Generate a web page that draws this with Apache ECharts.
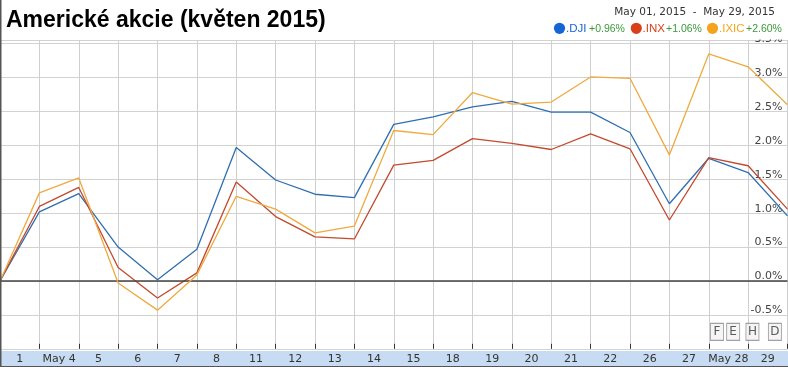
<!DOCTYPE html>
<html><head><meta charset="utf-8">
<script src="https://cdn.jsdelivr.net/npm/echarts/dist/echarts.min.js"></script>
<style>html,body{margin:0;padding:0;background:#fff}#c{width:788px;height:367px}</style>
</head><body><div id="c"></div>
<script>
const titleText = 'Americké akcie (květen 2015)';
const dateRange = 'May 01, 2015  -  May 29, 2015';
const dayLabels = ['1','May 4','5','6','7','8','11','12','13','14','15','18','19','20','21','22','26','27','May 28','29'];
// cumulative change in % (index 0 = start of period)
const dji  = [0, 1.02, 1.29, 0.50, 0.02, 0.47, 1.97, 1.49, 1.28, 1.23, 2.31, 2.42, 2.57, 2.65, 2.49, 2.49, 2.19, 1.14, 1.81, 1.60, 0.96];
const inx  = [0, 1.10, 1.38, 0.20, -0.25, 0.12, 1.46, 0.95, 0.65, 0.62, 1.71, 1.78, 2.10, 2.03, 1.94, 2.17, 1.95, 0.90, 1.82, 1.70, 1.06];
const ixic = [0, 1.30, 1.52, -0.03, -0.43, 0.09, 1.25, 1.06, 0.71, 0.81, 2.22, 2.16, 2.78, 2.61, 2.64, 3.01, 2.99, 1.86, 3.35, 3.16, 2.60];
const seriesNames = ['.DJI', '.INX', '.IXIC'];
const flagLetters = ['F', 'E', 'H', 'D'];
const flagPos = [18.21, 18.62, 19.11, 19.68];
const flagLevel = -0.75;

const lineColors = ['#2f6fb0', '#c24a2e', '#eeaa40'];
const dotColors = ['#1565d6', '#d8401a', '#f5a31c'];
const allSeries = [dji, inx, ixic];

const chart = echarts.init(document.getElementById('c'));

const legendX = [[559.5, 566, 589], [636.3, 642.5, 666], [712.5, 719, 746]];
const graphics = [
  {type:'rect', shape:{x:0, y:351, width:788, height:15.5}, style:{fill:'#c7dcf2'}, z:-10, silent:true},
  {type:'rect', shape:{x:748, y:32, width:38, height:7.5}, style:{fill:'#fff'}, z:100, zlevel:0, silent:true},
  {type:'line', shape:{x1:0.75, y1:0, x2:0.75, y2:367}, style:{stroke:'#555', lineWidth:1.5}, z:101, silent:true},
  {type:'line', shape:{x1:0, y1:366.5, x2:788, y2:366.5}, style:{stroke:'#555', lineWidth:1}, z:101, silent:true},
  {type:'text', x:775, y:12.5, style:{text:dateRange, fill:'#333', font:'10.5px "DejaVu Sans"', align:'right', verticalAlign:'middle'}, z:101}
];
seriesNames.forEach((n, i) => {
  const last = allSeries[i][allSeries[i].length - 1];
  graphics.push({type:'circle', shape:{cx:legendX[i][0], cy:28.3, r:5.6}, style:{fill:dotColors[i]}, z:101});
  graphics.push({type:'text', x:legendX[i][1], y:28.5, style:{text:n, fill:dotColors[i], font:'11.5px "Liberation Sans"', verticalAlign:'middle'}, z:101});
  graphics.push({type:'text', x:legendX[i][2], y:29, style:{text:(last >= 0 ? '+' : '') + last.toFixed(2) + '%', fill:'#3a9a3a', font:'10.5px "Liberation Sans"', verticalAlign:'middle'}, z:101});
});

const lineSeries = allSeries.map((arr, i) => ({
  name: seriesNames[i],
  type: 'line',
  xAxisIndex: 0,
  yAxisIndex: 0,
  data: arr.map((v, k) => [k, v]),
  symbol: 'none',
  showSymbol: false,
  lineStyle: {color: lineColors[i], width: 1.3},
  itemStyle: {color: lineColors[i]},
  z: 3 + i,
  markLine: i === 0 ? {
    silent: true, symbol: ['none', 'none'], label: {show: false},
    lineStyle: {color: '#444', width: 1.5, type: 'solid'},
    data: [{yAxis: 0}]
  } : undefined
}));

const flagSeries = {
  type: 'scatter',
  xAxisIndex: 0,
  yAxisIndex: 0,
  data: flagPos.map((x, k) => ({value: [x, flagLevel], name: flagLetters[k]})),
  symbol: 'rect',
  symbolSize: [13, 17],
  itemStyle: {color: '#f3f3f3', borderColor: '#8a8a8a', borderWidth: 1},
  label: {show: true, position: 'inside', formatter: p => p.name, color: '#333', fontSize: 12, fontFamily: 'DejaVu Sans'},
  z: 10,
  silent: true
};

chart.setOption({
  animation: false,
  backgroundColor: '#fff',
  title: {
    text: titleText, left: 1, top: 4.5,
    textStyle: {fontSize: 23, fontWeight: 'bold', color: '#000', fontFamily: 'Liberation Sans'}
  },
  grid: {left: -2.2, right: 0.5, top: 40, bottom: 18.2, containLabel: false},
  xAxis: [
    {
      type: 'value', min: 0, max: 20, interval: 1, position: 'top',
      axisLine: {show: true, lineStyle: {color: '#c8c8c8', width: 1}},
      axisTick: {show: false}, axisLabel: {show: false},
      splitLine: {show: true, lineStyle: {color: '#cfcfcf', width: 1}}
    },
    {
      type: 'category', data: dayLabels, position: 'bottom', boundaryGap: true,
      axisLine: {show: false},
      axisTick: {show: true, inside: true, length: 5, lineStyle: {color: '#333'}},
      axisLabel: {interval: 0, margin: 5, color: '#333', fontSize: 11, fontFamily: 'DejaVu Sans'},
      splitLine: {show: false}
    }
  ],
  yAxis: {
    type: 'value', position: 'right', min: -1, max: 3.555, interval: 0.5,
    axisLine: {show: false}, axisTick: {show: false},
    splitLine: {show: true, lineStyle: {color: '#d2d2d2', width: 1}},
    axisLabel: {
      inside: true, margin: 5, color: '#444', fontSize: 11, fontFamily: 'DejaVu Sans',
      verticalAlign: 'bottom', lineHeight: 9,
      formatter: v => (Math.abs(v * 2 - Math.round(v * 2)) < 1e-6 && v > -0.99) ? v.toFixed(1) + '%' : ''
    }
  },
  graphic: {elements: graphics},
  series: [...lineSeries, flagSeries]
});
</script>
</body></html>
